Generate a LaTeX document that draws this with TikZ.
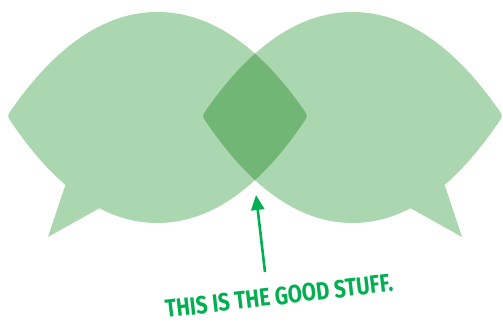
\documentclass[tikz,border=0pt]{standalone}
\usepackage{fontspec}
\setmainfont{Fira Sans}
\newfontfamily\capfont[FakeStretch=0.82]{Fira Sans}
\usetikzlibrary{arrows.meta}
\definecolor{bubble}{HTML}{ABD7B0}
\definecolor{overlap}{HTML}{72B676}
\definecolor{arrowgreen}{HTML}{00AF50}
\tikzset{
  lightfill/.style={fill=bubble, draw=none},
  darkfill/.style={fill=overlap, draw=none},
  pointer/.style={draw=arrowgreen, line width=2.6pt, -{Triangle[length=15pt,width=13pt]}},
  caption/.style={text=arrowgreen, font=\capfont\bfseries\fontsize{25}{25}\selectfont, rotate=6.7, inner sep=0pt}
}
\def\leftbubble{(11.6,109.4) .. controls (58.6,42.3) and (107.5,12) .. (157.5,12)
  .. controls (207.5,12) and (256.4,42.3) .. (303.4,109.4)
  .. controls (308,116) .. (303.4,122.6)
  .. controls (256.4,191.8) and (207.5,223) .. (157.5,223)
  .. controls (107.5,223) and (58.6,191.8) .. (11.6,122.6)
  .. controls (7,116) .. cycle}
\def\rightbubble{(498.4,109.4) .. controls (451.4,42.3) and (402.5,12) .. (352.5,12)
  .. controls (302.5,12) and (253.6,42.3) .. (206.6,109.4)
  .. controls (202,116) .. (206.6,122.6)
  .. controls (253.6,191.8) and (302.5,223) .. (352.5,223)
  .. controls (402.5,223) and (451.4,191.8) .. (498.4,122.6)
  .. controls (503,116) .. cycle}
\begin{document}
\begin{tikzpicture}[x=1pt,y=-1pt]
\useasboundingbox (0,0) rectangle (503,323);
% bubbles
\fill[lightfill] \leftbubble;
\fill[lightfill] (48,237) -- (67,180) -- (110,202.3) -- cycle;
\fill[lightfill] \rightbubble;
\fill[lightfill] (462,237) -- (443,180) -- (400,202.3) -- cycle;
% overlap
\begin{scope}
  \clip \leftbubble;
  \fill[darkfill] \rightbubble;
\end{scope}
% arrow and caption
\coordinate (goodtip) at (256,195);
\coordinate (arrowstart) at (265,272);
\node[caption] (goodstuff) at (279,296) {THIS IS THE GOOD STUFF.};
\draw[pointer] (arrowstart) -- (goodtip);
\end{tikzpicture}
\end{document}
